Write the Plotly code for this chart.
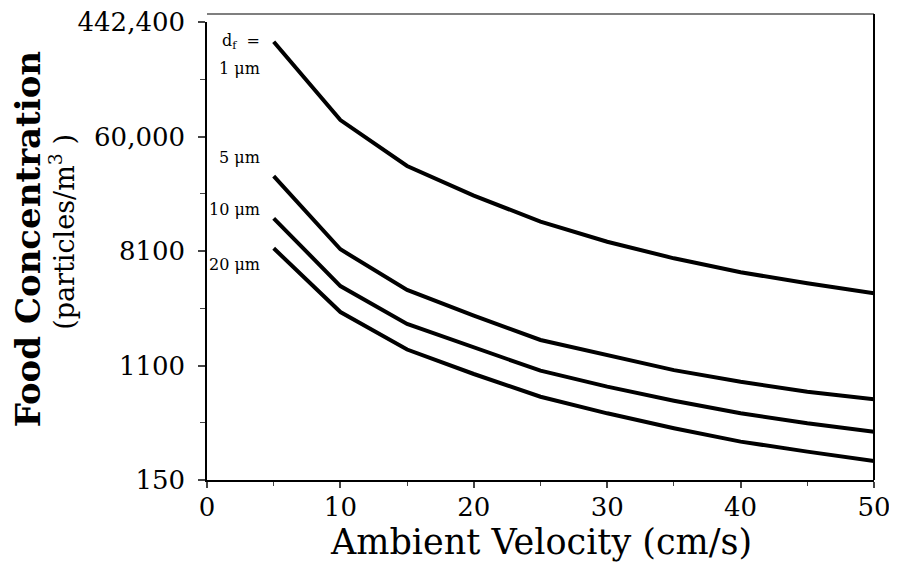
import plotly.graph_objects as go

velocity = [5, 10, 15, 20, 25, 30, 35, 40, 45, 50]
conc_1um = [313800, 80000, 35900, 21400, 13600, 9580, 7170, 5620, 4640, 3900]
conc_5um = [30100, 8390, 4130, 2640, 1725, 1330, 1020, 833, 700, 613]
conc_10um = [14400, 4420, 2280, 1530, 1010, 764, 598, 480, 403, 348]
conc_20um = [8540, 2810, 1460, 953, 641, 480, 370, 293, 246, 209]

series_labels = ["1 μm", "5 μm", "10 μm", "20 μm"]
y_tickvals = [150, 1100, 8100, 60000, 442400]
y_ticktext = ["150", "1100", "8100", "60,000", "442,400"]
y_minor = [406, 2985, 22045, 162925]
x_tickvals = [0, 10, 20, 30, 40, 50]

FONT = "DejaVu Serif"

fig = go.Figure()
for name, ys in zip(series_labels, [conc_1um, conc_5um, conc_10um, conc_20um]):
    fig.add_trace(go.Scatter(x=velocity, y=ys, mode="lines", name=name,
                             line=dict(color="black", width=4), showlegend=False))

fig.update_layout(
    width=897, height=563,
    margin=dict(l=199, r=31, t=14, b=91, autoexpand=False),
    paper_bgcolor="white", plot_bgcolor="white",
    font=dict(family=FONT, color="black"),
    xaxis=dict(range=[0, 50.0001], tickvals=x_tickvals, ticks="outside", ticklen=6, tickwidth=1.5,
               showline=True, linecolor="black", linewidth=2, showgrid=False, zeroline=False,
               tickfont=dict(size=26, family=FONT), ticklabelstandoff=-3, ticklabeloverflow="allow",
               automargin=False,
               minor=dict(tickvals=[5, 15, 25, 35, 45], ticks="outside", ticklen=4, tickwidth=1)),
    yaxis=dict(type="log", range=[2.17607, 5.64583], tickvals=y_tickvals, ticktext=y_ticktext,
               ticks="outside", ticklen=7, tickwidth=1.5,
               showline=True, linecolor="black", linewidth=1.5, showgrid=False, zeroline=False,
               tickfont=dict(size=26, family=FONT), ticklabelstandoff=8, ticklabeloverflow="allow",
               automargin=False,
               minor=dict(tickvals=y_minor, ticks="outside", ticklen=5, tickwidth=1)),
)

# frame top and right
fig.add_shape(type="line", xref="paper", yref="paper", x0=0, x1=1, y0=1.0175, y1=1.0175,
              line=dict(color="#555", width=1.5))
fig.add_shape(type="line", xref="paper", yref="paper", x0=1, x1=1, y0=0, y1=1.0175,
              line=dict(color="black", width=2))

# curve labels
lab_x = 4.13
fig.add_annotation(x=lab_x, y=5.50, text="d<sub>f</sub>  =", showarrow=False, xanchor="right",
                   yanchor="middle", font=dict(size=16, family=FONT))
for txt, ly in zip(series_labels, [5.297, 4.616, 4.222, 3.805]):
    fig.add_annotation(x=lab_x, y=ly, text=txt, showarrow=False, xanchor="right",
                       yanchor="middle", font=dict(size=16, family=FONT))

# axis titles
fig.add_annotation(xref="paper", yref="paper", x=-0.268, y=0.526, text="<b>Food Concentration</b>",
                   textangle=-90, showarrow=False, xanchor="center", yanchor="middle",
                   font=dict(size=34, family=FONT))
fig.add_annotation(xref="paper", yref="paper", x=-0.218, y=0.541, text="(particles/m<sup>3</sup> )",
                   textangle=-90, showarrow=False, xanchor="center", yanchor="middle",
                   font=dict(size=27, family=FONT))
fig.add_annotation(xref="paper", yref="paper", x=0.5007, y=-0.135, text="Ambient Velocity (cm/s)",
                   showarrow=False, xanchor="center", yanchor="middle",
                   font=dict(size=35, family=FONT))

fig.write_html("out.html")
